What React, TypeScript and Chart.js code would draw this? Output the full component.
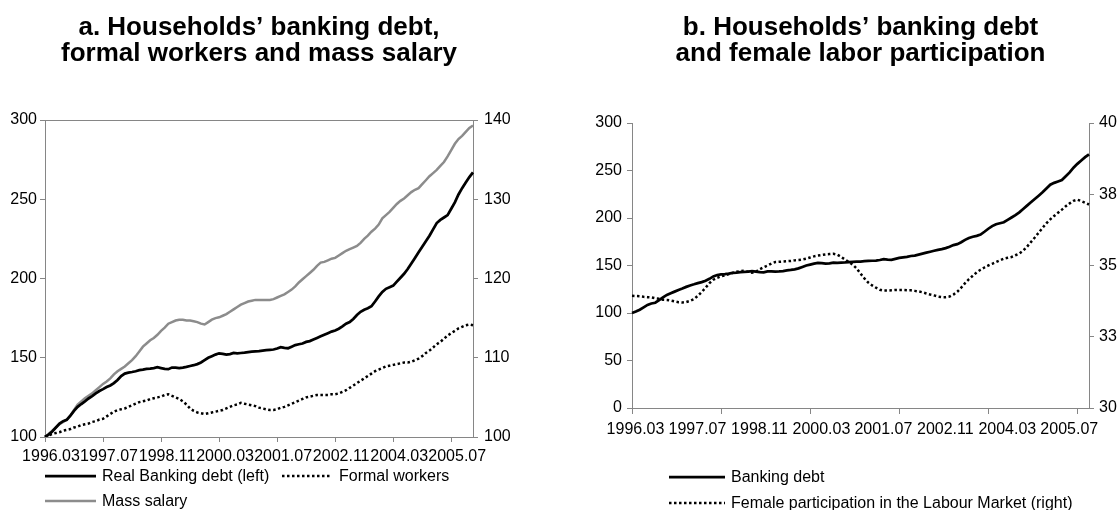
import React, { useEffect, useRef } from 'react';
import { Chart, registerables } from 'chart.js';

Chart.register(...registerables);

const FONT = '"Liberation Sans", Arial, Helvetica, sans-serif';
const AXIS = '#868686';
const GRAY_LINE = '#8c8c8c';

// Monthly categories 1996.03 … 2006.01
const months: string[] = [];
for (let k = 0; k < 119; k++) {
  const m = ((2 + k) % 12) + 1;
  const y = 1996 + Math.floor((2 + k) / 12);
  months.push(`${y}.${String(m).padStart(2, '0')}`);
}

const xTickLabels = ['1996.03', '1997.07', '1998.11', '2000.03', '2001.07', '2002.11', '2004.03', '2005.07'];
const bTickMarkMonths = ['1996.03', '1998.02', '2000.01', '2001.12', '2003.11', '2005.10'];

const leftAxisTicksA = { min: 100, max: 300, step: 50 };
const rightAxisTicksA = { min: 100, max: 140, step: 10 };
const leftAxisTicksB = { min: 0, max: 300, step: 50 };
const rightAxisTicksB = { min: 30, max: 40, step: 2.5 };

// Real banking debt index (1996.03 = 100), left axis
const bankingDebt = [
  100, 101.5, 103.5, 106, 108.5, 110, 110.8, 113.5, 116.5, 119,
  120.8, 122.5, 124.3, 125.8, 127.5, 129, 130.2, 131.5, 132.5, 134,
  136, 138.5, 140, 140.6, 141, 141.5, 142.2, 142.5, 143, 143.2,
  143.5, 144, 143.5, 143, 142.8, 143.8, 143.8, 143.5, 143.8, 144.2,
  144.8, 145.3, 146, 147, 148.5, 150, 151, 152, 152.8, 152.5,
  152, 152.3, 153, 152.8, 153, 153.2, 153.5, 153.8, 154, 154.2,
  154.5, 154.8, 155, 155.2, 155.8, 156.7, 156.2, 156, 157, 158,
  158.5, 159, 160, 160.5, 161.5, 162.5, 163.5, 164.5, 165.5, 166.5,
  167.2, 168.3, 169.8, 171.5, 172.5, 174.5, 177, 179, 180.3, 181.2,
  182.5, 185.5, 188.7, 191.5, 193.5, 194.5, 195.5, 198, 200.5, 203,
  206, 209.5, 213, 216.5, 220, 223.5, 227, 231, 235, 237,
  238.5, 240, 244, 248, 253, 257, 260.5, 264, 267,
];

// Formal workers index, right axis
const formalWorkers = [
  100.0, 100.2, 100.4, 100.5, 100.6, 100.8, 100.9, 101.0, 101.2, 101.3,
  101.5, 101.6, 101.7, 101.9, 102.0, 102.2, 102.3, 102.6, 102.9, 103.2,
  103.4, 103.5, 103.6, 103.8, 104.0, 104.2, 104.4, 104.5, 104.6, 104.8,
  104.9, 105.0, 105.1, 105.3, 105.4, 105.2, 105.0, 104.8, 104.5, 104.1,
  103.6, 103.3, 103.1, 103.0, 102.9, 103.0, 103.1, 103.2, 103.3, 103.4,
  103.6, 103.8, 104.0, 104.1, 104.3, 104.2, 104.1, 104.0, 103.9, 103.7,
  103.6, 103.5, 103.4, 103.4, 103.5, 103.7, 103.8, 104.0, 104.2, 104.4,
  104.6, 104.8, 105.0, 105.1, 105.2, 105.3, 105.3, 105.3, 105.3, 105.4,
  105.4, 105.5, 105.7, 105.9, 106.2, 106.5, 106.8, 107.1, 107.4, 107.7,
  108.0, 108.3, 108.5, 108.7, 108.9, 109.0, 109.1, 109.2, 109.3, 109.4,
  109.4, 109.5, 109.7, 109.9, 110.2, 110.6, 110.9, 111.3, 111.7, 112.0,
  112.4, 112.8, 113.1, 113.4, 113.7, 113.9, 114.1, 114.2, 114.1,
];

// Mass salary index, right axis
const massSalary = [
  100.0, 100.4, 100.8, 101.2, 101.6, 101.9, 102.2, 102.7, 103.4, 104.1,
  104.5, 104.9, 105.2, 105.5, 105.9, 106.3, 106.7, 107.0, 107.4, 107.9,
  108.3, 108.6, 108.9, 109.3, 109.7, 110.2, 110.8, 111.4, 111.8, 112.2,
  112.5, 112.9, 113.4, 113.8, 114.3, 114.5, 114.7, 114.8, 114.8, 114.7,
  114.7, 114.6, 114.5, 114.3, 114.2, 114.5, 114.8, 115.0, 115.1, 115.3,
  115.5, 115.8, 116.1, 116.4, 116.7, 116.9, 117.1, 117.2, 117.3, 117.3,
  117.3, 117.3, 117.3, 117.4, 117.6, 117.8, 118.0, 118.3, 118.6, 119.0,
  119.5, 119.9, 120.3, 120.7, 121.1, 121.6, 122.0, 122.1, 122.3, 122.5,
  122.6, 122.9, 123.2, 123.5, 123.7, 123.9, 124.1, 124.5, 125.0, 125.4,
  125.9, 126.3, 126.8, 127.6, 128.0, 128.4, 128.9, 129.4, 129.8, 130.1,
  130.5, 130.9, 131.2, 131.4, 131.9, 132.4, 132.9, 133.3, 133.7, 134.2,
  134.7, 135.4, 136.2, 137.0, 137.6, 138.0, 138.5, 139.0, 139.3,
];

// Female participation in the labour market (%), right axis of panel b
const femaleParticipation = [
  33.94, 33.93, 33.92, 33.90, 33.89, 33.88, 33.85, 33.83, 33.80, 33.79,
  33.77, 33.74, 33.71, 33.70, 33.72, 33.76, 33.82, 33.94, 34.07, 34.22,
  34.38, 34.50, 34.57, 34.62, 34.65, 34.70, 34.74, 34.78, 34.80, 34.82,
  34.78, 34.75, 34.78, 34.87, 34.94, 35.00, 35.07, 35.12, 35.13, 35.14,
  35.15, 35.16, 35.18, 35.19, 35.21, 35.24, 35.28, 35.32, 35.35, 35.37,
  35.39, 35.40, 35.41, 35.38, 35.30, 35.21, 35.12, 35.03, 34.90, 34.72,
  34.55, 34.40, 34.30, 34.22, 34.15, 34.12, 34.12, 34.13, 34.14, 34.14,
  34.14, 34.13, 34.13, 34.11, 34.09, 34.06, 34.02, 33.98, 33.95, 33.91,
  33.89, 33.89, 33.91, 33.98, 34.08, 34.22, 34.38, 34.52, 34.64, 34.76,
  34.85, 34.93, 35.00, 35.06, 35.12, 35.18, 35.24, 35.27, 35.30, 35.36,
  35.42, 35.52, 35.66, 35.82, 35.98, 36.15, 36.32, 36.48, 36.62, 36.74,
  36.85, 36.96, 37.08, 37.18, 37.27, 37.31, 37.26, 37.20, 37.14,
];

type LegendItem = {
  text: string; color: string; width: number; dash: number[];
  x0: number; x1: number; tx: number; y: number;
};

function legendPlugin(items: LegendItem[]) {
  return {
    id: 'customLegend',
    afterDraw(chart: any) {
      const ctx = chart.ctx;
      ctx.save();
      items.forEach((it) => {
        ctx.beginPath();
        ctx.lineWidth = it.width;
        ctx.strokeStyle = it.color;
        ctx.setLineDash(it.dash);
        ctx.lineCap = 'butt';
        ctx.moveTo(it.x0, it.y);
        ctx.lineTo(it.x1, it.y);
        ctx.stroke();
        ctx.setLineDash([]);
        ctx.fillStyle = '#000';
        ctx.font = `16px ${FONT}`;
        ctx.textBaseline = 'middle';
        ctx.textAlign = 'left';
        ctx.fillText(it.text, it.tx, it.y + 1);
      });
      ctx.restore();
    },
  };
}

const topBorderPlugin = {
  id: 'topBorder',
  afterDraw(chart: any) {
    const { ctx, chartArea } = chart;
    ctx.save();
    ctx.strokeStyle = AXIS;
    ctx.lineWidth = 1;
    ctx.beginPath();
    ctx.moveTo(chartArea.left, Math.round(chartArea.top) + 0.5);
    ctx.lineTo(chartArea.right, Math.round(chartArea.top) + 0.5);
    ctx.stroke();
    ctx.restore();
  },
};

const tickFont = { family: FONT, size: 16 };

function xScale(markMonths: string[], labelOffset: number, tickLength: number, padding: number) {
  return {
    type: 'category',
    ticks: {
      autoSkip: false,
      maxRotation: 0,
      minRotation: 0,
      padding,
      labelOffset,
      font: tickFont,
      color: '#000',
      callback: (v: any) => (xTickLabels.includes(months[v]) ? months[v] : ''),
    },
    grid: {
      drawOnChartArea: false,
      drawTicks: true,
      tickLength,
      color: (ctx: any) =>
        ctx.tick && markMonths.includes(months[ctx.tick.value]) ? AXIS : 'rgba(0,0,0,0)',
    },
    border: { color: AXIS, width: 1 },
    afterFit: (s: any) => { s.height = 30; },
  };
}

function yScale(position: string, t: { min: number; max: number; step: number }, width: number, tickLength: number, padding: number, round = false) {
  return {
    position,
    min: t.min,
    max: t.max,
    ticks: {
      stepSize: t.step,
      padding,
      font: tickFont,
      color: '#000',
      callback: (v: any) => (round ? String(Math.round(v)) : String(v)),
    },
    grid: { drawOnChartArea: false, drawTicks: true, tickLength, color: AXIS },
    border: { color: AXIS, width: 1 },
    afterFit: (s: any) => { s.width = width; },
  };
}

function titleOpts(lines: string[], bottomPad: number) {
  return {
    display: true,
    text: lines,
    fullSize: false,
    color: '#000',
    font: { family: FONT, size: 26, weight: 'bold', lineHeight: 1.0 },
    padding: { top: 15, bottom: bottomPad },
  };
}

function configA(): any {
  return {
    type: 'line',
    data: {
      labels: months,
      datasets: [
        { label: 'Real Banking debt (left)', data: bankingDebt, yAxisID: 'y', borderColor: '#000', borderWidth: 2.75, pointRadius: 0, tension: 0 },
        { label: 'Formal workers', data: formalWorkers, yAxisID: 'y1', borderColor: '#000', borderWidth: 2.5, borderDash: [2.5, 2.5], pointRadius: 0, tension: 0 },
        { label: 'Mass salary', data: massSalary, yAxisID: 'y1', borderColor: GRAY_LINE, borderWidth: 2.5, pointRadius: 0, tension: 0 },
      ],
    },
    options: {
      responsive: false,
      animation: false,
      devicePixelRatio: 1,
      layout: { padding: { left: 0, right: 0, top: 0, bottom: 43 } },
      plugins: {
        legend: { display: false },
        tooltip: { enabled: false },
        title: titleOpts(['a. Households’ banking debt,', 'formal workers and mass salary'], 53),
      },
      scales: {
        x: xScale(xTickLabels, 6, 5, 5),
        y: yScale('left', leftAxisTicksA, 45, 5, 3),
        y1: yScale('right', rightAxisTicksA, 87, 5, 6),
      },
    },
    plugins: [
      topBorderPlugin,
      legendPlugin([
        { text: 'Real Banking debt (left)', color: '#000', width: 2.75, dash: [], x0: 45, x1: 96, tx: 102, y: 476 },
        { text: 'Formal workers', color: '#000', width: 2.5, dash: [2.5, 2.5], x0: 282, x1: 332, tx: 339, y: 476 },
        { text: 'Mass salary', color: GRAY_LINE, width: 2.5, dash: [], x0: 45, x1: 96, tx: 102, y: 501 },
      ]),
    ],
  };
}

function configB(): any {
  return {
    type: 'line',
    data: {
      labels: months,
      datasets: [
        { label: 'Banking debt', data: bankingDebt, yAxisID: 'y', borderColor: '#000', borderWidth: 2.75, pointRadius: 0, tension: 0 },
        { label: 'Female participation in the Labour Market (right)', data: femaleParticipation, yAxisID: 'y1', borderColor: '#000', borderWidth: 2.5, borderDash: [2.5, 2.5], pointRadius: 0, tension: 0 },
      ],
    },
    options: {
      responsive: false,
      animation: false,
      devicePixelRatio: 1,
      layout: { padding: { left: 0, right: 0, top: 0, bottom: 72 } },
      plugins: {
        legend: { display: false },
        tooltip: { enabled: false },
        title: titleOpts(['b. Households’ banking debt', 'and female labor participation'], 56),
      },
      scales: {
        x: xScale(bTickMarkMonths, 3.5, 6, 6),
        y: yScale('left', leftAxisTicksB, 72, 5, 5),
        y1: yScale('right', rightAxisTicksB, 31, 5, 5, true),
      },
    },
    plugins: [
      legendPlugin([
        { text: 'Banking debt', color: '#000', width: 2.75, dash: [], x0: 109, x1: 165, tx: 171, y: 477 },
        { text: 'Female participation in the Labour Market (right)', color: '#000', width: 2.5, dash: [2.5, 2.5], x0: 109, x1: 165, tx: 171, y: 503 },
      ]),
    ],
  };
}

function ChartPanel({ left, make }: { left: number; make: () => any }) {
  const ref = useRef<HTMLCanvasElement | null>(null);
  useEffect(() => {
    if (!ref.current) return;
    const chart = new Chart(ref.current, make());
    return () => chart.destroy();
  }, []);
  return (
    <canvas
      ref={ref}
      width={560}
      height={510}
      style={{ position: 'absolute', left, top: 0, width: 560, height: 510 }}
    />
  );
}

export default function App() {
  return (
    <div style={{ position: 'fixed', left: 0, top: 0, width: 1120, height: 510, background: '#fff', overflow: 'hidden' }}>
      <ChartPanel left={0} make={configA} />
      <ChartPanel left={560} make={configB} />
    </div>
  );
}
